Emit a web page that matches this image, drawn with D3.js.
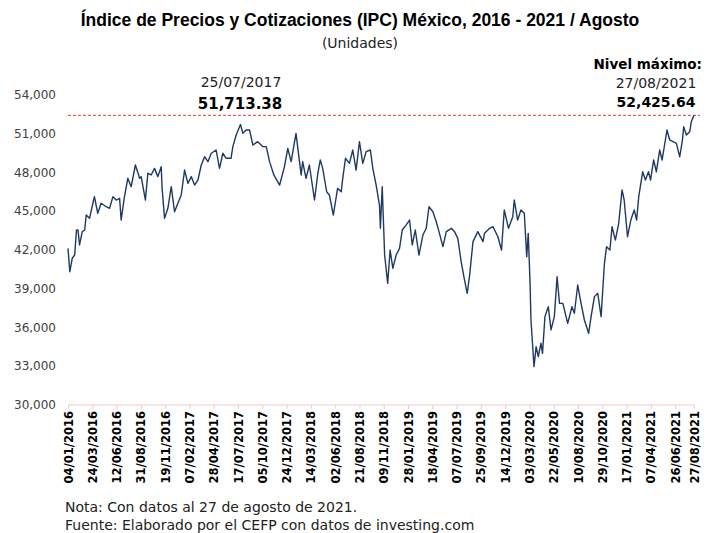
<!DOCTYPE html>
<html>
<head>
<meta charset="utf-8">
<script src="https://cdn.jsdelivr.net/npm/d3@7"></script>
<style>
  body { margin: 0; background: #fff; }
  svg { display: block; font-family: "DejaVu Sans", sans-serif; }
</style>
</head>
<body>
<svg width="713" height="533"></svg>
<script>
// fechas y valores (IPC, unidades)
var fechas = [
  "2016-01-04","2016-01-10","2016-01-18","2016-01-26","2016-02-01","2016-02-06","2016-02-11","2016-02-20","2016-02-28","2016-03-04",
  "2016-03-15","2016-03-26","2016-03-31","2016-04-11","2016-04-22","2016-05-09","2016-05-20","2016-05-31","2016-06-11","2016-06-22",
  "2016-06-27","2016-07-08","2016-07-19","2016-07-30","2016-08-13","2016-08-27","2016-09-01","2016-09-15","2016-09-23","2016-10-04",
  "2016-10-15","2016-10-26","2016-11-06","2016-11-09","2016-11-17","2016-11-28","2016-12-09","2016-12-20","2016-12-31","2017-01-11",
  "2017-01-22","2017-02-02","2017-02-13","2017-02-24","2017-03-07","2017-03-18","2017-03-29","2017-04-09","2017-04-20","2017-05-06",
  "2017-05-17","2017-05-28","2017-06-08","2017-06-24","2017-06-30","2017-07-11","2017-07-25","2017-08-02","2017-08-13","2017-08-24",
  "2017-09-04","2017-09-20","2017-10-07","2017-10-18","2017-10-29","2017-11-12","2017-12-01","2017-12-17","2017-12-28","2018-01-08",
  "2018-01-24","2018-02-10","2018-02-15","2018-02-26","2018-03-09","2018-03-26","2018-04-06","2018-04-14","2018-04-22","2018-05-05",
  "2018-05-14","2018-05-27","2018-06-10","2018-06-22","2018-06-27","2018-07-06","2018-07-19","2018-07-30","2018-08-10","2018-08-21",
  "2018-09-01","2018-09-12","2018-09-26","2018-10-04","2018-10-15","2018-10-26","2018-10-29","2018-11-04","2018-11-12","2018-11-22",
  "2018-11-30","2018-12-09","2018-12-20","2018-12-31","2019-01-09","2019-01-22","2019-02-02","2019-02-11","2019-02-21","2019-03-05",
  "2019-03-18","2019-03-29","2019-04-07","2019-04-20","2019-05-01","2019-05-10","2019-05-23","2019-06-03","2019-06-20","2019-06-30",
  "2019-07-11","2019-07-22","2019-08-02","2019-08-11","2019-08-19","2019-08-30","2019-09-15","2019-10-02","2019-10-07","2019-10-24",
  "2019-11-04","2019-11-20","2019-12-02","2019-12-11","2019-12-25","2020-01-08","2020-01-13","2020-01-24","2020-02-04","2020-02-15",
  "2020-02-23","2020-02-28","2020-03-05","2020-03-08","2020-03-13","2020-03-18","2020-03-25","2020-04-01","2020-04-10","2020-04-15",
  "2020-04-23","2020-05-04","2020-05-13","2020-05-24","2020-06-02","2020-06-10","2020-06-21","2020-07-07","2020-07-21","2020-07-29",
  "2020-08-09","2020-08-20","2020-08-31","2020-09-14","2020-09-22","2020-10-03","2020-10-14","2020-10-25","2020-11-05","2020-11-12",
  "2020-11-23","2020-11-30","2020-12-11","2020-12-22","2021-01-02","2021-01-09","2021-01-20","2021-01-31","2021-02-11","2021-02-19",
  "2021-02-26","2021-03-11","2021-03-20","2021-03-30","2021-04-06","2021-04-16","2021-04-25","2021-05-06","2021-05-14","2021-05-22",
  "2021-05-30","2021-06-08","2021-06-19","2021-06-30","2021-07-11","2021-07-20","2021-07-24","2021-08-02","2021-08-13","2021-08-18",
  "2021-08-27"
];
var valores = [
  42130,40320,41360,41610,43550,43550,42390,43420,43550,44710,
  44450,45620,46130,44840,45620,45350,45230,46130,45870,46000,
  44320,46130,47550,46900,48580,47550,47680,45870,47940,47810,
  48320,47680,48450,46770,44450,45230,46900,44960,45620,46260,
  48190,47160,47680,47030,47420,48580,49220,48840,49490,49740,
  48320,49490,49100,49100,50000,50900,51713.38,51030,51290,51290,
  50130,50390,50000,50000,48840,47810,47030,48450,49870,48840,
  51030,47810,48840,47550,48580,45870,47940,48970,48320,46510,
  46260,44710,46770,46510,47550,49100,48710,49740,48190,50390,
  48710,49610,49740,48320,47030,45480,43680,46900,41610,39420,
  42000,40580,41610,42130,43550,43940,44320,42390,43550,41610,
  43160,43680,45350,44960,44190,43420,42260,43420,43680,43420,
  42900,41100,39680,38650,40060,42650,43420,42650,43290,43680,
  43800,43030,42000,45100,43680,44580,45870,44320,45100,44840,
  41480,43290,39420,36580,34780,32970,34520,33740,34780,34000,
  36840,37610,35810,36840,39930,37870,37870,36320,37610,37100,
  39290,37870,36580,35550,36840,38390,38650,36840,40970,42260,
  42000,43800,42770,44070,46650,45870,43030,44320,45100,44320,
  46130,48060,47420,48060,47420,48970,48060,49740,48970,50130,
  51290,50520,50390,50260,49220,50520,51550,50900,51160,51930,
  52425.64
];
var etiquetasX = [
  "04/01/2016","24/03/2016","12/06/2016","31/08/2016","19/11/2016","07/02/2017","28/04/2017",
  "17/07/2017","05/10/2017","24/12/2017","14/03/2018","02/06/2018","21/08/2018","09/11/2018",
  "28/01/2019","18/04/2019","07/07/2019","25/09/2019","14/12/2019","03/03/2020","22/05/2020",
  "10/08/2020","29/10/2020","17/01/2021","07/04/2021","26/06/2021","27/08/2021"
];
var ticksY = [30000, 33000, 36000, 39000, 42000, 45000, 48000, 51000, 54000];
var nivelMaximo = 52425.64;

var svg = d3.select("svg");
var parseISO = d3.timeParse("%Y-%m-%d"),
    parseMX = d3.timeParse("%d/%m/%Y");

var data = fechas.map(function (f, i) { return { fecha: parseISO(f), valor: valores[i] }; });

var x = d3.scaleTime()
    .domain([parseISO("2016-01-04"), parseISO("2021-08-27")])
    .range([68, 694]);

var y = d3.scaleLinear()
    .domain([30000, 54000])
    .range([405, 95]);

// titulo
svg.append("text")
    .attr("x", 360).attr("y", 26)
    .attr("text-anchor", "middle")
    .style("font-family", "'Liberation Sans', Arial, sans-serif")
    .style("font-weight", "bold").style("font-size", "17.5px")
    .text("Índice de Precios y Cotizaciones (IPC) México, 2016 - 2021 / Agosto");
svg.append("text")
    .attr("x", 360).attr("y", 48)
    .attr("text-anchor", "middle")
    .style("font-size", "14px").style("fill", "#222")
    .text("(Unidades)");

// eje y, solo etiquetas
svg.append("g")
    .selectAll("text")
    .data(ticksY)
    .join("text")
    .attr("x", 56).attr("y", function (d) { return y(d); })
    .attr("dy", "0.35em")
    .attr("text-anchor", "end")
    .style("font-size", "12px").style("fill", "#404040")
    .text(d3.format(","));

// eje x
var ejeX = svg.append("g")
    .attr("transform", "translate(0," + y(30000) + ")")
    .call(d3.axisBottom(x)
        .tickValues(etiquetasX.map(parseMX))
        .tickSize(4)
        .tickFormat(d3.timeFormat("%d/%m/%Y")));
ejeX.select(".domain").attr("stroke", "#f2caca").attr("d", "M68,0H694");
ejeX.selectAll(".tick line").attr("stroke", "#f2caca");
ejeX.selectAll(".tick text")
    .attr("transform", "rotate(-90)")
    .attr("text-anchor", "end")
    .attr("x", -6).attr("y", 0).attr("dy", "0.35em")
    .style("font-family", "'DejaVu Sans', sans-serif")
    .style("font-weight", "bold").style("font-size", "11.5px")
    .style("fill", "#000");

// linea de nivel maximo
svg.append("line")
    .attr("x1", 68).attr("x2", 700)
    .attr("y1", y(nivelMaximo)).attr("y2", y(nivelMaximo))
    .attr("stroke", "#e0393b").attr("stroke-width", 1)
    .attr("stroke-dasharray", "3,2");

// serie
var line = d3.line()
    .x(function (d) { return x(d.fecha); })
    .y(function (d) { return y(d.valor); });

svg.append("path")
    .datum(data)
    .attr("fill", "none")
    .attr("stroke", "#1f3864")
    .attr("stroke-width", 1.4)
    .attr("stroke-linejoin", "round")
    .attr("d", line);

// anotaciones
svg.append("text")
    .attr("x", 241).attr("y", 87)
    .attr("text-anchor", "middle")
    .style("font-size", "14px").style("fill", "#222")
    .text("25/07/2017");
svg.append("text")
    .attr("x", 240).attr("y", 109)
    .attr("text-anchor", "middle")
    .style("font-weight", "bold").style("font-size", "15px")
    .text("51,713.38");

svg.append("text")
    .attr("x", 702).attr("y", 69)
    .attr("text-anchor", "end")
    .style("font-weight", "bold").style("font-size", "13.5px")
    .text("Nivel máximo:");
svg.append("text")
    .attr("x", 656).attr("y", 88)
    .attr("text-anchor", "middle")
    .style("font-size", "14px").style("fill", "#222")
    .text("27/08/2021");
svg.append("text")
    .attr("x", 656).attr("y", 107)
    .attr("text-anchor", "middle")
    .style("font-weight", "bold").style("font-size", "14px")
    .text("52,425.64");

// notas
svg.append("text")
    .attr("x", 65).attr("y", 512)
    .style("font-size", "14px").style("fill", "#222")
    .text("Nota: Con datos al 27 de agosto de 2021.");
svg.append("text")
    .attr("x", 65).attr("y", 530)
    .style("font-size", "14px").style("fill", "#222")
    .text("Fuente: Elaborado por el CEFP con datos de investing.com");
</script>
</body>
</html>
